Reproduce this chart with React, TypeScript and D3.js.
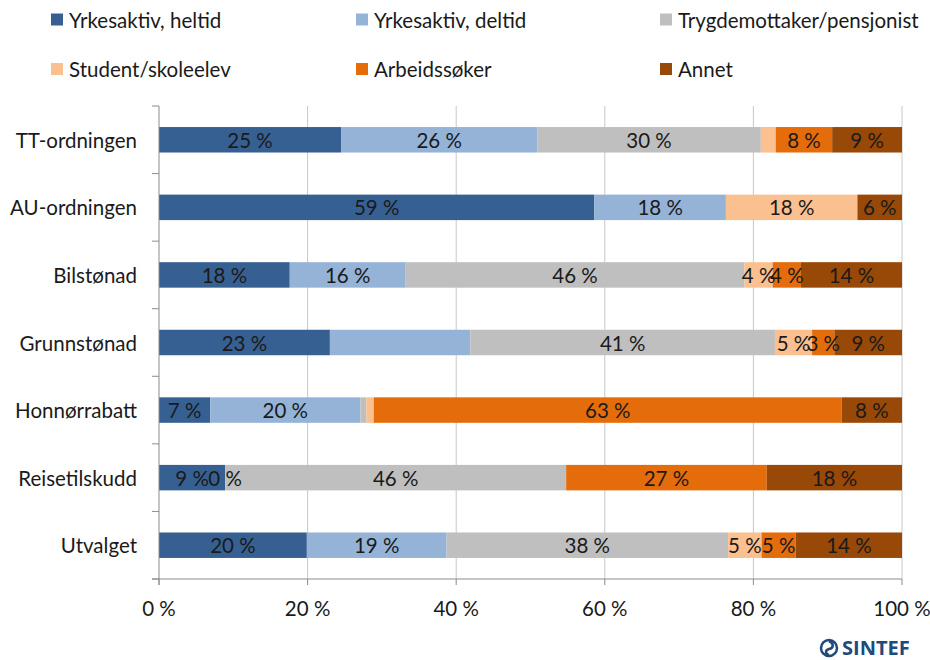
import React from "react";
import * as d3 from "d3";

const categories = ["TT-ordningen", "AU-ordningen", "Bilstønad", "Grunnstønad", "Honnørrabatt", "Reisetilskudd", "Utvalget"];
const seriesNames = ["Yrkesaktiv, heltid", "Yrkesaktiv, deltid", "Trygdemottaker/pensjonist", "Student/skoleelev", "Arbeidssøker", "Annet"];
const seriesColors = ["#376092", "#95b3d7", "#bfbfbf", "#fac090", "#e46c0a", "#984807"];

const heltid = [24.5, 58.6, 17.6, 23.0, 6.9, 8.9, 19.9];
const deltid = [26.4, 17.7, 15.6, 18.9, 20.2, 0, 18.8];
const trygd = [30.1, 0, 45.6, 41.0, 0.8, 45.9, 37.9];
const student = [2.0, 17.7, 3.8, 5.0, 1.0, 0, 4.5];
const arbeid = [7.6, 0, 3.8, 3.0, 63.0, 27.0, 4.6];
const annet = [9.4, 6.0, 13.6, 9.1, 8.1, 18.2, 14.3];

const hiddenLabels = [
  "TT-ordningen|Student/skoleelev",
  "AU-ordningen|Trygdemottaker/pensjonist",
  "AU-ordningen|Arbeidssøker",
  "Grunnstønad|Yrkesaktiv, deltid",
  "Honnørrabatt|Trygdemottaker/pensjonist",
  "Honnørrabatt|Student/skoleelev",
  "Reisetilskudd|Student/skoleelev",
];

const xTicks = [0, 20, 40, 60, 80, 100];

const FONT = "Lato, 'Open Sans', sans-serif";
const FS = 20.5;

export default function App() {
  const width = 930;
  const height = 660;
  const left = 159;
  const right = 902;
  const top = 106;
  const bottom = 579;

  const values = [heltid, deltid, trygd, student, arbeid, annet];
  const rows = categories.map((c, i) => {
    const r: any = { category: c };
    seriesNames.forEach((s, j) => (r[s] = values[j][i]));
    return r;
  });
  const stacked = d3.stack().keys(seriesNames)(rows);

  const x = d3.scaleLinear().domain([0, 100]).range([left, right]);
  const y = d3
    .scaleBand()
    .domain(categories)
    .range([top, bottom])
    .paddingInner(0.623)
    .paddingOuter(0.3115);
  const step = y.step();
  const boundaries = d3.range(categories.length + 1).map((k) => top + k * step);

  const legendCols = [51, 356, 660];
  const legendRows = [19.5, 69];

  return (
    <svg width={width} height={height} style={{ display: "block", position: "absolute", left: 0, top: 0 }} fontFamily={FONT}>
      <rect x={0} y={0} width={width} height={height} fill="#ffffff" />
      {/* legend */}
      {seriesNames.map((s, i) => {
        const cx = legendCols[i % 3];
        const cy = legendRows[Math.floor(i / 3)];
        return (
          <g key={s}>
            <rect x={cx} y={cy - 6} width={12} height={12} fill={seriesColors[i]} />
            <text x={cx + 18} y={cy} dominantBaseline="central" fontSize={FS} fill="#1a1a1a">
              {s}
            </text>
          </g>
        );
      })}
      {/* gridlines */}
      {xTicks.slice(1).map((t) => (
        <line key={t} x1={x(t)} x2={x(t)} y1={top} y2={bottom} stroke="#c8c8c8" strokeWidth={1} />
      ))}
      {/* bars */}
      {stacked.map((layer, j) =>
        layer.map((d, i) => (
          <rect
            key={`${j}-${i}`}
            x={x(d[0])}
            y={y(categories[i])}
            width={Math.max(0, x(d[1]) - x(d[0]))}
            height={y.bandwidth()}
            fill={seriesColors[j]}
          />
        ))
      )}
      {/* labels */}
      {stacked.map((layer, j) =>
        layer.map((d, i) => {
          const key = `${categories[i]}|${seriesNames[j]}`;
          if (hiddenLabels.includes(key)) return null;
          const v = values[j][i];
          return (
            <text
              key={`l${j}-${i}`}
              x={(x(d[0]) + x(d[1])) / 2}
              y={(y(categories[i]) as number) + y.bandwidth() / 2}
              textAnchor="middle"
              dominantBaseline="central"
              fontSize={FS}
              fill="#1a1a1a"
            >
              {`${Math.round(v)} %`}
            </text>
          );
        })
      )}
      {/* y axis */}
      <line x1={left} x2={left} y1={top} y2={bottom + 6} stroke="#8c8c8c" strokeWidth={1} />
      {boundaries.map((b, k) => (
        <line key={k} x1={left - 7} x2={left} y1={b} y2={b} stroke="#8c8c8c" strokeWidth={1} />
      ))}
      {categories.map((c) => (
        <text
          key={c}
          x={137}
          y={(y(c) as number) + y.bandwidth() / 2}
          textAnchor="end"
          dominantBaseline="central"
          fontSize={FS}
          fill="#1a1a1a"
        >
          {c}
        </text>
      ))}
      {/* x axis */}
      <line x1={left - 7} x2={right} y1={bottom} y2={bottom} stroke="#8c8c8c" strokeWidth={1} />
      {xTicks.map((t) => (
        <g key={t}>
          <line x1={x(t)} x2={x(t)} y1={bottom} y2={bottom + 6} stroke="#8c8c8c" strokeWidth={1} />
          <text x={x(t)} y={608} textAnchor="middle" dominantBaseline="central" fontSize={FS} fill="#1a1a1a">
            {`${t} %`}
          </text>
        </g>
      ))}
      {/* SINTEF logo */}
      <g>
        <circle cx={829} cy={648} r={8} fill="none" stroke="#1f4a7c" strokeWidth={2.5} />
        <path d="M829,641 C834,643 834,648 829,649 C825,650 825,654 829,655" fill="none" stroke="#1f4a7c" strokeWidth={2.5} />
        <text x={842} y={655} fontSize={20} fontWeight="bold" fill="#1f4a7c" fontFamily="'Open Sans', Lato, sans-serif">
          SINTEF
        </text>
      </g>
    </svg>
  );
}
